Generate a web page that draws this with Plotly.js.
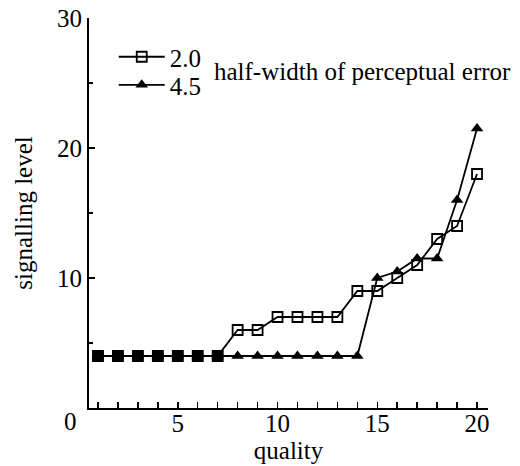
<!DOCTYPE html>
<html>
<head>
<meta charset="utf-8">
<script src="https://cdn.plot.ly/plotly-3.0.1.min.js"></script>
<style>html,body{margin:0;padding:0;background:#fff}#chart{width:520px;height:466px}</style>
</head>
<body>
<div id="chart"></div>
<script>
const quality = [1,2,3,4,5,6,7,8,9,10,11,12,13,14,15,16,17,18,19,20];
const level20 = [4,4,4,4,4,4,4,6,6,7,7,7,7,9,9,10,11,13,14,18];
const level45 = [4,4,4,4,4,4,4,4,4,4,4,4,4,4,10,10.5,11.5,11.5,16,21.5];
const seriesNames = ["2.0","4.5"];
const legendTitle = "half-width of perceptual error";
const xTickVals = [5,10,15,20];
const yTickVals = [10,20,30];

const F = '"Liberation Serif", "Times New Roman", "DejaVu Serif", serif';
const FS = 25;

// points where both series coincide (drawn as solid squares)
const ovX = [], ovY = [];
quality.forEach((q,i)=>{ if(level20[i]===level45[i]){ovX.push(q);ovY.push(level20[i]);} });

const traces = [
  {x: quality, y: level20, name: seriesNames[0], mode: 'lines+markers', legend:'legend',
   line: {color:'#000', width:1.8},
   marker: {symbol:'square-open', size:10, color:'#000', line:{width:1.8,color:'#000'}}},
  {x: ovX, y: ovY, mode:'markers', showlegend:false, hoverinfo:'skip',
   marker: {symbol:'square', size:11, color:'#000'}},
  {x: quality, y: level45, name: seriesNames[1], mode: 'lines+markers', legend:'legend2',
   line: {color:'#000', width:1.8},
   marker: {symbol:'triangle-up', size:11, color:'#000'}}
];

const legBase = {xanchor:'left', yanchor:'middle', bgcolor:'rgba(0,0,0,0)',
                 font:{family:F, size:FS}, itemwidth:46};
const layout = {
  width: 520, height: 466,
  margin: {l:89, r:32, t:18, b:58},
  paper_bgcolor:'#fff', plot_bgcolor:'#fff',
  font: {family: F, size: FS, color:'#000'},
  showlegend: true,
  legend: Object.assign({x:0.062, y:0.9}, legBase),
  legend2: Object.assign({x:0.062, y:0.828}, legBase),
  xaxis: {range:[0.55,20.55], showgrid:false, zeroline:false, showline:true,
          linecolor:'#000', linewidth:2, ticks:'inside', ticklen:6, tickwidth:1.5,
          tickcolor:'#000', tickvals:xTickVals, ticktext:xTickVals.map(String),
          ticklabelstandoff:-8,
          minor:{dtick:1, ticks:'inside', ticklen:6, tickwidth:1.5, tickcolor:'#000', showgrid:false},
          tickfont:{family:F, size:FS},
          title:{text:'quality', font:{family:F, size:FS}, standoff:5}},
  yaxis: {range:[0,30], showgrid:false, zeroline:false, showline:true,
          linecolor:'#000', linewidth:2, ticks:'inside', ticklen:6, tickwidth:1.5,
          tickcolor:'#000', tickvals:yTickVals, ticktext:yTickVals.map(String),
          minor:{tickvals:[5,15,25], ticks:'inside', ticklen:4, tickwidth:1.5, tickcolor:'#000', showgrid:false},
          tickfont:{family:F, size:FS},
          title:{text:'signalling level', font:{family:F, size:FS}, standoff:17}},
  annotations: [
    {xref:'paper', yref:'paper', x:0.308, y:0.862, xanchor:'left', yanchor:'middle',
     text: legendTitle, showarrow:false, font:{family:F, size:FS}},
    {xref:'paper', yref:'paper', x:-0.047, y:-0.035, xanchor:'center', yanchor:'middle',
     text:'0', showarrow:false, font:{family:F, size:FS}}
  ]
};

Plotly.newPlot('chart', traces, layout, {displayModeBar:false, staticPlot:true});
</script>
</body>
</html>
